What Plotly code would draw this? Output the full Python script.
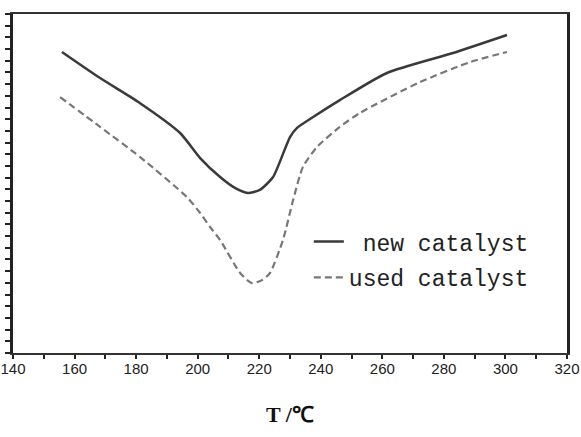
import plotly.graph_objects as go

# Data (temperature in °C, signal in arbitrary units)
new_T = [155.9, 168.3, 181.3, 194.3, 200.8, 207.3, 212.1, 216.3, 220.2, 224.5,
         230.0, 232.3, 237.5, 246.2, 261.5, 283.0, 300.5]
new_y = [88.8, 81.1, 73.7, 64.9, 57.5, 51.9, 48.7, 47.2, 48.1, 51.9,
         63.7, 66.4, 69.6, 74.6, 82.6, 88.5, 93.8]

used_T = [155.3, 168.3, 181.3, 196.5, 200.8, 204.0, 207.3, 213.8, 217.6, 220.9,
          223.5, 227.7, 231.0, 234.2, 238.8, 246.2, 252.7, 272.2, 288.5, 300.5]
used_y = [75.5, 66.7, 57.8, 46.0, 41.3, 37.2, 33.3, 23.6, 20.6, 21.5,
          23.6, 33.3, 45.1, 54.9, 60.8, 66.7, 70.8, 79.9, 85.8, 88.8]

x_ticks = [140, 160, 180, 200, 220, 240, 260, 280, 300, 320]

fig = go.Figure()
fig.add_trace(go.Scatter(x=new_T, y=new_y, mode="lines", name="\u00a0new catalyst",
                         legendgroup="a",
                         line=dict(color="#3a3a3a", width=2.5, shape="spline", smoothing=0.6)))
fig.add_trace(go.Scatter(x=used_T, y=used_y, mode="lines", name="used catalyst",
                         legendgroup="b",
                         line=dict(color="#777777", width=2.2, dash="7px,4px",
                                   shape="spline", smoothing=0.6)))

fig.update_layout(
    width=581, height=437,
    margin=dict(l=13, r=14, t=14, b=84, autoexpand=False),
    paper_bgcolor="white", plot_bgcolor="white",
    showlegend=True,
    legend=dict(x=0.534, y=0.392, xanchor="left", yanchor="top",
                bgcolor="rgba(0,0,0,0)", borderwidth=0,
                font=dict(family="Liberation Mono", size=23, color="#222"),
                itemwidth=30, tracegroupgap=3),
    xaxis=dict(range=[140, 320], tickvals=x_ticks, ticktext=[str(v) for v in x_ticks],
               automargin=False,
               ticks="outside", ticklen=4, tickwidth=2, tickcolor="#222",
               ticklabelstandoff=-3,
               minor=dict(dtick=10, ticks="outside", ticklen=4, tickwidth=2, tickcolor="#222"),
               showline=True, linecolor="#333", linewidth=2, mirror=True,
               showgrid=False, zeroline=False,
               tickfont=dict(family="Liberation Sans", size=15, color="#222"),
               title=dict(text="<b>T /℃</b>", standoff=31,
                          font=dict(family="Liberation Serif", size=22, color="#111"))),
    yaxis=dict(range=[0, 100], tick0=0, dtick=100/29, showticklabels=False,
               automargin=False,
               ticks="outside", ticklen=5, tickwidth=2, tickcolor="#222",
               showline=True, linecolor="#222", linewidth=2.5, mirror=True,
               showgrid=False, zeroline=False),
)

fig.write_html("out.html", config={"displayModeBar": False},
               post_script="document.body.style.margin='0';")
